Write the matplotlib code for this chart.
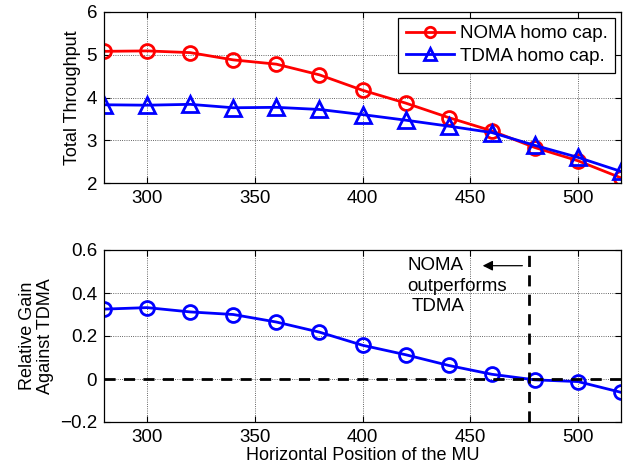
import numpy as np
import matplotlib
matplotlib.use('Agg')
import matplotlib.pyplot as plt

plt.rcParams['font.family'] = ['Liberation Sans', 'DejaVu Sans']

position = [280, 300, 320, 340, 360, 380, 400, 420, 440, 460, 480, 500, 520]
noma = [5.08, 5.09, 5.05, 4.88, 4.78, 4.53, 4.17, 3.87, 3.53, 3.22, 2.83, 2.52, 2.12]
tdma = [3.83, 3.82, 3.84, 3.76, 3.77, 3.72, 3.60, 3.47, 3.33, 3.18, 2.88, 2.60, 2.27]
gain = [0.325, 0.332, 0.312, 0.300, 0.265, 0.218, 0.157, 0.113, 0.063, 0.022, -0.004, -0.012, -0.062]
crossPos = 477.5

fig = plt.figure(figsize=(6.41, 4.70), dpi=100)
ax1 = fig.add_axes([104/641, 1-183/470, 517/641, 171/470])
ax2 = fig.add_axes([104/641, 1-422/470, 517/641, 172/470])

ax1.plot(position, noma, color='r', lw=2, marker='o', ms=10, mfc='none', mew=2, label='NOMA homo cap.')
ax1.plot(position, tdma, color='b', lw=2, marker='^', ms=11, mfc='none', mew=2, label='TDMA homo cap.')
ax1.set_xlim(280, 520)
ax1.set_ylim(2, 6)
ax1.set_yticks([2, 3, 4, 5, 6])
ax1.set_xticks([300, 350, 400, 450, 500])
ax1.set_ylabel('Total Throughput', fontsize=13)
leg = ax1.legend(loc='upper right', fontsize=13.5, fancybox=False, edgecolor='k', framealpha=1,
                 handlelength=2.6, handletextpad=0.3, borderpad=0.4, labelspacing=0.3,
                 borderaxespad=0.3, markerscale=0.75)
leg.get_frame().set_linewidth(0.9)

ax2.plot(position, gain, color='b', lw=2, marker='o', ms=10, mfc='none', mew=2)
ax2.axhline(0, color='k', ls='--', lw=2, dashes=(4, 3))
ax2.axvline(crossPos, color='k', ls='--', lw=2, dashes=(4, 3))
ax2.annotate('', xy=(454.5, 0.527), xytext=(475.5, 0.527),
             arrowprops=dict(arrowstyle='-|>', color='k', lw=0.9, mutation_scale=15))
# the three lines of the note are not aligned the same way in the original
ax2.text(420.7, 0.507, 'NOMA', ha='left', va='baseline', fontsize=13.5)
ax2.text(420.7, 0.409, 'outperforms', ha='left', va='baseline', fontsize=13.5)
ax2.text(435.1, 0.316, 'TDMA', ha='center', va='baseline', fontsize=13.5)
ax2.set_xlim(280, 520)
ax2.set_ylim(-0.2, 0.6)
ax2.set_yticks([-0.2, 0, 0.2, 0.4, 0.6])
ax2.set_yticklabels(['\u22120.2', '0', '0.2', '0.4', '0.6'])
ax2.set_xticks([300, 350, 400, 450, 500])
ax2.set_xlabel('Horizontal Position of the MU', fontsize=13, labelpad=1)
ax2.set_ylabel('Relative Gain\nAgainst TDMA', fontsize=13, linespacing=1.1)

for ax in (ax1, ax2):
    ax.grid(True, color='k', ls=':', lw=0.6, alpha=0.8)
    ax.tick_params(labelsize=13.5, direction='in', length=4, top=True, right=True, pad=5)
    for s in ax.spines.values():
        s.set_linewidth(0.9)

fig.savefig('out.png', dpi=100)
